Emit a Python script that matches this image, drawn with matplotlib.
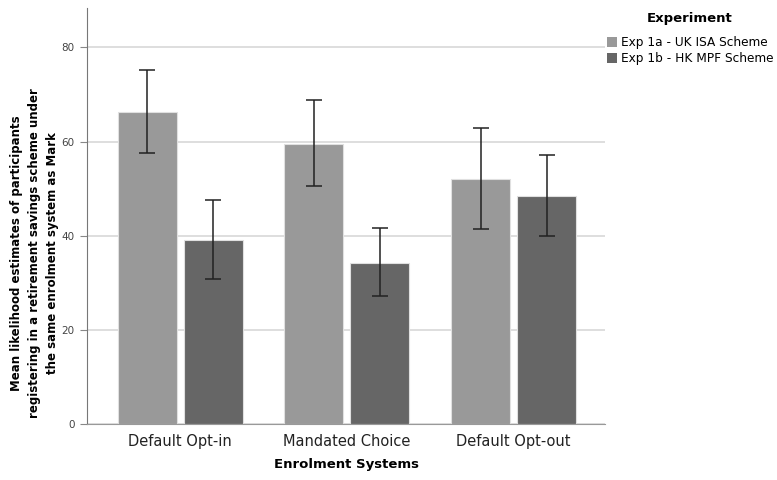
import matplotlib
matplotlib.use("Agg")
import matplotlib.pyplot as plt
import numpy as np
from matplotlib.patches import Patch

categories = ["Default Opt-in", "Mandated Choice", "Default Opt-out"]
series_names = ["Exp 1a - UK ISA Scheme", "Exp 1b - HK MPF Scheme"]
means_uk = [66.3, 59.5, 52.0]
low_uk = [57.6, 50.6, 41.4]
high_uk = [75.1, 68.8, 62.9]
means_hk = [39.0, 34.1, 48.4]
low_hk = [30.7, 27.1, 39.9]
high_hk = [47.6, 41.6, 57.2]
colors = ["#999999", "#666666"]
yticks = [0, 20, 40, 60, 80]

plt.rcParams['font.family'] = ['DejaVu Sans']
fig = plt.figure(figsize=(7.77, 4.8), dpi=100)
ax = fig.add_axes([0.112, 0.1167, 0.667, 0.866])

x = np.arange(len(categories))
width = 0.354
offset = 0.198
for k, (m, lo, hi) in enumerate([(means_uk, low_uk, high_uk), (means_hk, low_hk, high_hk)]):
    pos = x + (offset if k else -offset)
    m = np.array(m)
    ax.bar(pos, m, width, color=colors[k], edgecolor="#e0e0e0", linewidth=0.8, zorder=2)
    yerr = np.vstack([m - np.array(lo), np.array(hi) - m])
    ax.errorbar(pos, m, yerr=yerr, fmt="none", ecolor="#222222", elinewidth=1.1,
                capsize=6, capthick=1.1, zorder=3)

ax.set_xlim(-0.56, 2.55)
ax.set_ylim(0, 88.3)
ax.set_yticks(yticks)
ax.set_yticklabels([str(v) for v in yticks], fontsize=7.5, color="#444444")
ax.yaxis.grid(True, color="#d8d8d8", linewidth=1.2, zorder=0)
ax.set_axisbelow(True)
ax.set_xticks(x)
ax.set_xticklabels(categories, fontsize=10.5, color="#222222")
ax.tick_params(axis="x", length=0, pad=7)
ax.tick_params(axis="y", length=5, width=0.8, color="#888888", pad=4)
for s in ["top", "right"]:
    ax.spines[s].set_visible(False)
ax.spines["left"].set_color("#777777")
ax.spines["bottom"].set_color("#999999")

ax.set_xlabel("Enrolment Systems", fontsize=9.5, fontweight="bold", labelpad=7)
ax.set_ylabel("Mean likelihood estimates of participants\nregistering in a retirement savings scheme under\nthe same enrolment system as Mark",
              fontsize=8.5, fontweight="bold", linespacing=1.5, va="center")
ax.yaxis.set_label_coords(-0.102, 0.41)

handles = [Patch(facecolor=c, edgecolor="none") for c in colors]
leg = fig.legend(handles, series_names, loc="upper left", bbox_to_anchor=(0.781, 0.975),
                 frameon=False, fontsize=8.7, title="Experiment",
                 title_fontproperties={"weight": "bold", "size": 9.5},
                 handlelength=0.85, handleheight=0.85, handletextpad=0.3,
                 labelspacing=0.25, borderaxespad=0, borderpad=0)
leg._legend_box.align = "center"
leg._legend_box.sep = 8

fig.savefig("out.png", dpi=100)
